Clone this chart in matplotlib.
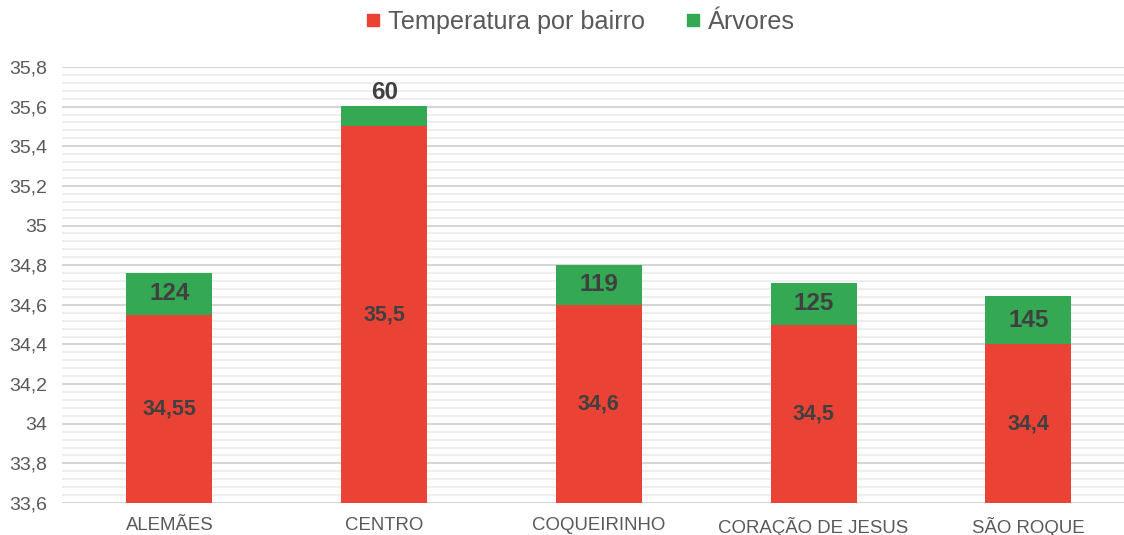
import matplotlib
matplotlib.use("Agg")
import matplotlib.pyplot as plt
from matplotlib.ticker import MultipleLocator, FuncFormatter
from matplotlib.lines import Line2D

plt.rcParams['font.family'] = ['Liberation Sans', 'DejaVu Sans']

bairros = ["ALEMÃES", "CENTRO", "COQUEIRINHO", "CORAÇÃO DE JESUS", "SÃO ROQUE"]
temperatura = [34.55, 35.5, 34.6, 34.5, 34.4]
arvores = [124, 60, 119, 125, 145]
yticks = [33.6, 33.8, 34.0, 34.2, 34.4, 34.6, 34.8, 35.0, 35.2, 35.4, 35.6, 35.8]

RED = "#EA4335"
GREEN = "#34A853"
BASE = 33.6
TREE_SCALE = 1 / 590.0  # height of the tree segment per tree, in axis units

fig = plt.figure(figsize=(11.24, 5.35), dpi=100)
ax = fig.add_axes([62 / 1124, 32 / 535, 1073.75 / 1124, 436 / 535])

x = list(range(len(bairros)))
width = 0.4
red_h = [t - BASE for t in temperatura]
green_h = [a * TREE_SCALE for a in arvores]

ax.bar(x, red_h, width, bottom=BASE, color=RED, zorder=3)
ax.bar(x, green_h, width, bottom=temperatura, color=GREEN, zorder=3)

label_color = "#404040"
for xi, t, a, gh in zip(x, temperatura, arvores, green_h):
    ax.text(xi, (BASE + t) / 2, f"{t:g}".replace(".", ","), ha="center", va="center",
            fontsize=15.5, fontweight="bold", color=label_color, zorder=4)
    if gh < 0.15:
        ax.annotate(str(a), (xi, t + gh), xytext=(0, 2), textcoords="offset points",
                    ha="center", va="bottom", fontsize=17.5, fontweight="bold",
                    color=label_color, zorder=4)
    else:
        ax.text(xi, t + gh / 2, str(a), ha="center", va="center",
                fontsize=17.5, fontweight="bold", color=label_color, zorder=4)

ax.set_xlim(-0.5, len(bairros) - 0.5)
ax.set_ylim(33.6, 35.8)
ax.set_yticks(yticks)
ax.yaxis.set_major_formatter(FuncFormatter(lambda v, p: f"{v:g}".replace(".", ",")))
ax.yaxis.set_minor_locator(MultipleLocator(0.04))
ax.set_xticks(x)
ax.set_xticklabels(bairros)

ax.grid(axis="y", which="major", color="#D6D6D6", linewidth=1.5, zorder=0)
ax.grid(axis="y", which="minor", color="#EEEEEE", linewidth=1.5, zorder=0)
ax.set_axisbelow(True)
for s in ax.spines.values():
    s.set_visible(False)
ax.tick_params(axis="both", which="both", length=0)
ax.tick_params(axis="y", labelsize=14, labelcolor="#595959", pad=10.5)
ax.tick_params(axis="x", labelsize=13.4, labelcolor="#595959", pad=10)

handles = [
    Line2D([], [], marker="s", linestyle="none", markersize=8.5, color=RED),
    Line2D([], [], marker="s", linestyle="none", markersize=8.5, color=GREEN),
]
fig.legend(handles, ["Temperatura por bairro", "Árvores"], loc="center",
           bbox_to_anchor=(580 / 1124, 1 - 22 / 535), ncol=2, frameon=False,
           fontsize=18.2, labelcolor="#595959", handlelength=0.6,
           handletextpad=0.3, columnspacing=1.6)

fig.savefig("out.png", dpi=100, facecolor="white")
